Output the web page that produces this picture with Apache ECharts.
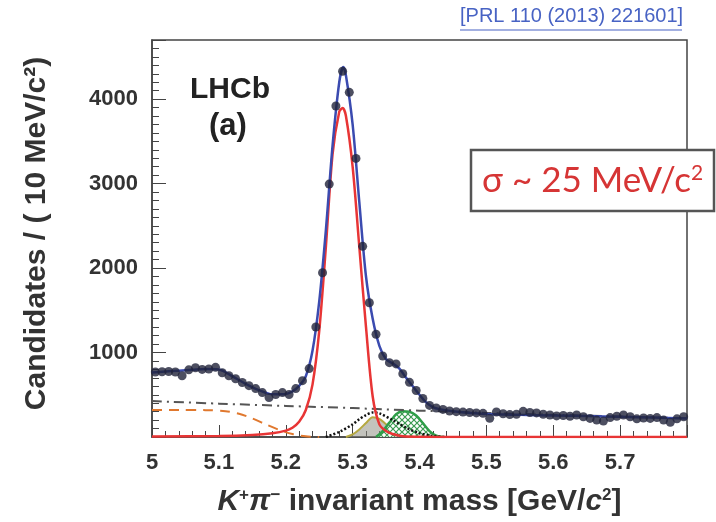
<!DOCTYPE html>
<html>
<head>
<meta charset="utf-8">
<script src="https://cdn.jsdelivr.net/npm/echarts/dist/echarts.min.js"></script>
<style>
  html, body { margin: 0; padding: 0; background: #fff; }
  #chart { width: 716px; height: 522px; }
</style>
</head>
<body>
<div id="chart"></div>
<script>
// bin centres (10 MeV bins) and candidates per bin
const binMass = [
  5.005, 5.015, 5.025, 5.035, 5.045, 5.055, 5.065, 5.075, 5.085, 5.095,
  5.105, 5.115, 5.125, 5.135, 5.145, 5.155, 5.165, 5.175, 5.185, 5.195,
  5.205, 5.215, 5.225, 5.235, 5.245, 5.255, 5.265, 5.275, 5.285, 5.295,
  5.305, 5.315, 5.325, 5.335, 5.345, 5.355, 5.365, 5.375, 5.385, 5.395,
  5.405, 5.415, 5.425, 5.435, 5.445, 5.455, 5.465, 5.475, 5.485, 5.495,
  5.505, 5.515, 5.525, 5.535, 5.545, 5.555, 5.565, 5.575, 5.585, 5.595,
  5.605, 5.615, 5.625, 5.635, 5.645, 5.655, 5.665, 5.675, 5.685, 5.695,
  5.705, 5.715, 5.725, 5.735, 5.745, 5.755, 5.765, 5.775, 5.785, 5.795
];
const binCounts = [
  770, 772, 775, 770, 725, 795, 820, 800, 805, 825,
  760, 725, 690, 645, 608, 573, 526, 468, 503, 526,
  503, 573, 667, 810, 1302, 1945, 2994, 3918, 4330, 4080,
  3298, 2257, 1590, 1216, 959, 880, 865, 749, 647, 550,
  456, 374, 343, 327, 308, 300, 295, 290, 285, 280,
  222, 296, 275, 265, 270, 304, 290, 285, 270, 260,
  250, 255, 245, 260, 240, 220, 200, 190, 230, 245,
  260, 240, 215, 225, 220, 230, 200, 175, 215, 240
];

// total fit (blue)
const totalMass = [5.00, 5.02, 5.04, 5.06, 5.08, 5.10, 5.12, 5.14, 5.16, 5.18, 5.20, 5.21, 5.22, 5.23, 5.24, 5.25, 5.26, 5.27, 5.28, 5.286, 5.29, 5.30, 5.31, 5.32, 5.33, 5.34, 5.35, 5.36, 5.37, 5.38, 5.39, 5.40, 5.41, 5.42, 5.43, 5.45, 5.50, 5.55, 5.60, 5.65, 5.70, 5.75, 5.80];
const totalFit  = [765, 775, 785, 795, 805, 800, 720, 630, 555, 505, 510, 540, 605, 720, 1020, 1600, 2450, 3450, 4200, 4380, 4280, 3700, 2780, 1900, 1400, 1080, 920, 870, 810, 700, 600, 500, 410, 355, 330, 305, 272, 262, 255, 248, 240, 230, 218];

// B0 -> K+ pi- signal (red)
const signalMass = [5.00, 5.10, 5.15, 5.18, 5.20, 5.21, 5.22, 5.23, 5.24, 5.25, 5.26, 5.27, 5.28, 5.285, 5.29, 5.30, 5.31, 5.32, 5.33, 5.34, 5.35, 5.36, 5.37, 5.38, 5.45, 5.80];
const signalFit  = [5, 12, 25, 45, 75, 110, 180, 320, 620, 1250, 2250, 3350, 3850, 3895, 3800, 3200, 2250, 1300, 480, 150, 70, 35, 15, 5, 0, 0];

// combinatorial background (dash-dot)
const combMass = [5.0, 5.1, 5.2, 5.3, 5.4, 5.5, 5.6, 5.7, 5.8];
const combFit  = [425, 395, 368, 342, 312, 285, 262, 242, 222];

// partially reconstructed background (orange dashed)
const partMass = [5.00, 5.04, 5.08, 5.11, 5.13, 5.15, 5.17, 5.19, 5.21, 5.23, 5.25];
const partFit  = [320, 320, 318, 305, 275, 220, 150, 85, 35, 8, 0];

// misidentified background (black dotted)
const misidMass = [5.26, 5.28, 5.30, 5.31, 5.32, 5.33, 5.34, 5.36, 5.38, 5.40, 5.42, 5.44];
const misidFit  = [0, 60, 150, 210, 260, 290, 280, 200, 110, 45, 12, 0];

// three-body background (grey filled)
const threeMass = [5.29, 5.30, 5.31, 5.32, 5.33, 5.34, 5.35, 5.36, 5.37, 5.38, 5.39];
const threeFit  = [0, 30, 90, 165, 235, 215, 150, 90, 40, 10, 0];

// Bs -> K- pi+ (green hatched)
const bsMass = [5.335, 5.345, 5.355, 5.365, 5.375, 5.385, 5.395, 5.405, 5.415, 5.425, 5.435];
const bsFit  = [0, 70, 170, 270, 305, 300, 255, 165, 70, 15, 0];

const pairs = (xs, ys) => xs.map((x, i) => [x, ys[i]]);

function hatch(color) {
  const c = document.createElement('canvas');
  c.width = 6; c.height = 6;
  const g = c.getContext('2d');
  g.fillStyle = '#fff';
  g.fillRect(0, 0, 6, 6);
  g.strokeStyle = color;
  g.lineWidth = 1.2;
  g.beginPath();
  g.moveTo(0, 0); g.lineTo(6, 6);
  g.moveTo(6, 0); g.lineTo(0, 6);
  g.stroke();
  return c;
}

const chart = echarts.init(document.getElementById('chart'));
const font = 'Liberation Sans, Arial, sans-serif';

const option = {
  backgroundColor: '#fff',
  animation: false,
  grid: {
    left: 152, right: 29, top: 40, bottom: 80,
    show: true, borderColor: '#444', borderWidth: 1.5, backgroundColor: 'transparent'
  },
  xAxis: {
    type: 'value', min: 5.0, max: 5.8, interval: 0.1,
    axisLine: { show: true, onZero: false, lineStyle: { color: '#444', width: 1.5 } },
    axisTick: { inside: true, length: 12, lineStyle: { color: '#444' } },
    minorTick: { show: true, splitNumber: 5, length: 6, lineStyle: { color: '#444' } },
    splitLine: { show: false },
    axisLabel: {
      margin: 15, color: '#333', fontFamily: font, fontWeight: 'bold', fontSize: 22,
      formatter: v => (Math.abs(v - 5.8) < 1e-6 ? '' : (Math.abs(v - 5) < 1e-6 ? '5' : v.toFixed(1)))
    },
    name: '{i|K}{s|+}{i|π}{s|−}{n| invariant mass [GeV/}{i|c}{s|2}{n|]}',
    nameLocation: 'middle', nameGap: 50,
    nameTextStyle: {
      rich: {
        n: { fontFamily: font, fontWeight: 'bold', fontSize: 30, color: '#333' },
        i: { fontFamily: font, fontWeight: 'bold', fontStyle: 'italic', fontSize: 30, color: '#333' },
        s: { fontFamily: font, fontWeight: 'bold', fontSize: 17, color: '#333', verticalAlign: 'top' }
      }
    }
  },
  yAxis: {
    type: 'value', min: 0, max: 4700, interval: 1000,
    axisLine: { show: true, lineStyle: { color: '#444', width: 1.5 } },
    axisTick: { inside: true, length: 14, lineStyle: { color: '#444' } },
    minorTick: { show: true, splitNumber: 10, length: 7, lineStyle: { color: '#444' } },
    splitLine: { show: false },
    axisLabel: {
      margin: 14, color: '#333', fontFamily: font, fontWeight: 'bold', fontSize: 22,
      formatter: v => (v > 0 && v % 1000 === 0 ? String(v) : '')
    },
    name: 'Candidates / ( 10 MeV/c²)',
    nameLocation: 'middle', nameRotate: 90, nameGap: 100,
    nameTextStyle: { fontFamily: font, fontWeight: 'bold', fontSize: 30, color: '#333', padding: [0, 0, 0, 10] }
  },
  series: [
    {
      type: 'line', data: pairs(threeMass, threeFit), smooth: 0.3, symbol: 'none', z: 2,
      lineStyle: { color: '#b5a840', width: 2 },
      areaStyle: { color: 'rgba(140,140,130,0.75)' }
    },
    {
      type: 'line', data: pairs(bsMass, bsFit), smooth: 0.3, symbol: 'none', z: 3,
      lineStyle: { color: '#2f9e48', width: 2.5 },
      areaStyle: { color: { image: hatch('#3a9a50'), repeat: 'repeat' }, opacity: 1 }
    },
    {
      type: 'line', data: pairs(combMass, combFit), smooth: 0.3, symbol: 'none', z: 4,
      lineStyle: { color: '#555', width: 2, type: [10, 5, 2, 5] }
    },
    {
      type: 'line', data: pairs(partMass, partFit), smooth: 0.3, symbol: 'none', z: 4,
      lineStyle: { color: '#e0782e', width: 2, type: [10, 7] }
    },
    {
      type: 'line', data: pairs(misidMass, misidFit), smooth: 0.3, symbol: 'none', z: 4,
      lineStyle: { color: '#111', width: 2.5, type: [2, 2] }
    },
    {
      type: 'line', data: pairs(signalMass, signalFit), smooth: 0.3, symbol: 'none', z: 5,
      lineStyle: { color: '#e83535', width: 2.5 }
    },
    {
      type: 'line', data: pairs(totalMass, totalFit), smooth: 0.3, symbol: 'none', z: 6,
      lineStyle: { color: '#3b4bb0', width: 2.5 }
    },
    {
      type: 'scatter', data: pairs(binMass, binCounts), symbolSize: 9, z: 7,
      itemStyle: { color: '#20233a' }
    }
  ],
  graphic: [
    { type: 'text', left: 190, top: 75, z: 20,
      style: { text: 'LHCb', font: 'bold 30px Liberation Sans', fill: '#222' } },
    { type: 'text', left: 209, top: 111, z: 20,
      style: { text: '(a)', font: 'bold 31px Liberation Sans', fill: '#222' } },
    { type: 'text', left: 460, top: 6, z: 20,
      style: { text: '[PRL 110 (2013) 221601]', font: '20px Liberation Sans', fill: '#4863c4' } },
    { type: 'line', z: 20, shape: { x1: 460, y1: 30, x2: 682, y2: 30 },
      style: { stroke: '#4863c4', lineWidth: 1.2 } },
    { type: 'rect', z: 30, shape: { x: 471, y: 150, width: 243, height: 61 },
      style: { fill: '#fff', stroke: '#555', lineWidth: 2.5 } },
    { type: 'text', z: 31, left: 482, top: 163,
      style: {
        text: '{t|σ ~ 25 MeV/c}{s|2}',
        rich: {
          t: { fontFamily: 'Lato, Open Sans, sans-serif', fontSize: 35, fill: '#d63535', color: '#d63535' },
          s: { fontFamily: 'Lato, Open Sans, sans-serif', fontSize: 21, fill: '#d63535', color: '#d63535', verticalAlign: 'top' }
        }
      } }
  ]
};

chart.setOption(option);
</script>
</body>
</html>
